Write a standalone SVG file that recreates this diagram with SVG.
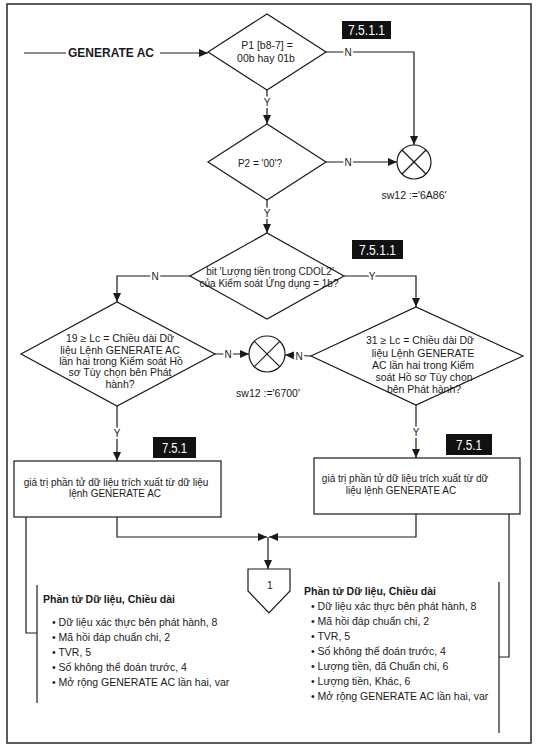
<svg xmlns="http://www.w3.org/2000/svg" width="545" height="749" viewBox="0 0 545 749">
<style>
text{font-family:"Liberation Sans",Arial,sans-serif;fill:#1a1a1a;dominant-baseline:central}
.ln{stroke:#1a1a1a;stroke-width:1.2;fill:none}
.sh{fill:#fff;stroke:#1a1a1a;stroke-width:1.2}
.frame{fill:none;stroke:#333;stroke-width:1.6}
.lbl{font-size:10px;paint-order:stroke;stroke:#fff;stroke-width:4px;text-anchor:middle}
.t10{font-size:10px;text-anchor:middle}
.t105{font-size:10.5px;text-anchor:middle}
.sw{font-size:10.5px;text-anchor:middle}
.tagb{fill:#111}
.tagt{fill:#fff;font-size:14px;text-anchor:middle}
.hd{font-size:10.5px;font-weight:bold}
.li{font-size:10.5px}
</style>
<defs>
<marker id="ah" markerWidth="9" markerHeight="8" refX="9" refY="4" orient="auto" markerUnits="userSpaceOnUse"><path d="M0,0 L9,4 L0,8 z" fill="#1a1a1a"/></marker>
</defs>
<rect x="0" y="0" width="545" height="749" fill="#fff"/>
<rect class="frame" x="7" y="4" width="524" height="739"/>

<g id="connectors">
<line class="ln" x1="24" y1="53" x2="66" y2="53"/>
<line class="ln" x1="160" y1="53" x2="208" y2="53" marker-end="url(#ah)"/>
<line class="ln" x1="267" y1="90" x2="267" y2="124" marker-end="url(#ah)"/>
<polyline class="ln" points="326,52 414,52 414,145" marker-end="url(#ah)"/>
<line class="ln" x1="326" y1="162" x2="397" y2="162" marker-end="url(#ah)"/>
<line class="ln" x1="267" y1="200" x2="267" y2="233" marker-end="url(#ah)"/>
<polyline class="ln" points="190,276 117,276 117,302" marker-end="url(#ah)"/>
<polyline class="ln" points="344,276 416,276 416,307" marker-end="url(#ah)"/>
<line class="ln" x1="215" y1="354" x2="249" y2="354" marker-end="url(#ah)"/>
<line class="ln" x1="311" y1="356" x2="285" y2="355" marker-end="url(#ah)"/>
<line class="ln" x1="117" y1="406" x2="117" y2="461" marker-end="url(#ah)"/>
<line class="ln" x1="416" y1="405" x2="416" y2="458" marker-end="url(#ah)"/>
<polyline class="ln" points="117,517 117,537 267,537" marker-end="url(#ah)"/>
<polyline class="ln" points="416,514 416,537 269,537" marker-end="url(#ah)"/>
<line class="ln" x1="268" y1="537" x2="268" y2="569" marker-end="url(#ah)"/>
<polyline class="ln" points="26,517 26,633 37,633"/>
<line class="ln" x1="37" y1="585" x2="37" y2="703"/>
<polyline class="ln" points="509,514 509,657 499,657"/>
<line class="ln" x1="499" y1="582" x2="499" y2="733"/>
<text class="lbl" x="267" y="102">Y</text>
<text class="lbl" x="348" y="52">N</text>
<text class="lbl" x="348" y="162">N</text>
<text class="lbl" x="267" y="213">Y</text>
<text class="lbl" x="155" y="276">N</text>
<text class="lbl" x="372" y="276">Y</text>
<text class="lbl" x="228" y="354">N</text>
<text class="lbl" x="299" y="356">N</text>
<text class="lbl" x="117" y="433">Y</text>
<text class="lbl" x="416" y="432">Y</text>
</g>

<g id="start">
<text x="68" y="53" style="font-size:12px;font-weight:bold">GENERATE AC</text>
</g>

<g id="d1">
<polygon class="sh" points="208,52 267,14 326,52 267,90"/>
<text class="t105" x="267" y="45">P1 [b8-7] =</text>
<text class="t105" x="266" y="58">00b hay 01b</text>
</g>

<g id="tag1">
<rect class="tagb" x="342" y="21" width="49" height="18"/>
<text class="tagt" x="366.5" y="30" textLength="37" lengthAdjust="spacingAndGlyphs">7.5.1.1</text>
</g>

<g id="d2">
<polygon class="sh" points="208,162 267,124 326,162 267,200"/>
<text class="t10" x="260" y="163">P2 = '00'?</text>
</g>

<g id="c1">
<circle class="sh" cx="414" cy="162" r="17"/>
<line class="ln" x1="402" y1="150" x2="426" y2="174"/>
<line class="ln" x1="426" y1="150" x2="402" y2="174"/>
<text class="sw" x="414" y="195">sw12 :='6A86'</text>
</g>

<g id="d3">
<polygon class="sh" points="190,276 267,233 344,276 267,319"/>
<text class="t10" x="270" y="271">bit 'Lượng tiền trong CDOL2'</text>
<text class="t10" x="269" y="283">của Kiểm soát Ứng dụng = 1b?</text>
</g>

<g id="tag2">
<rect class="tagb" x="352" y="240" width="51" height="19"/>
<text class="tagt" x="377.5" y="249.5" textLength="37" lengthAdjust="spacingAndGlyphs">7.5.1.1</text>
</g>

<g id="d4">
<polygon class="sh" points="21,354 117,302 215,354 117,406"/>
<text class="t105" x="120" y="338">19 ≥ Lc = Chiều dài Dữ</text>
<text class="t105" x="120" y="350">liệu Lệnh GENERATE AC</text>
<text class="t105" x="121" y="361">lần hai trong Kiểm soát Hồ</text>
<text class="t105" x="120" y="372">sơ Tùy chọn bên Phát</text>
<text class="t105" x="120" y="384">hành?</text>
</g>

<g id="c2">
<circle class="sh" cx="267" cy="354" r="18"/>
<line class="ln" x1="254.3" y1="341.3" x2="279.7" y2="366.7"/>
<line class="ln" x1="279.7" y1="341.3" x2="254.3" y2="366.7"/>
<text class="sw" x="268" y="393">sw12 :='6700'</text>
</g>

<g id="d5">
<polygon class="sh" points="311,356 416,307 523,356 416,405"/>
<text class="t105" x="420" y="340">31 ≥ Lc = Chiều dài Dữ</text>
<text class="t105" x="423" y="353">liệu Lệnh GENERATE</text>
<text class="t105" x="423" y="365">AC lần hai trong Kiểm</text>
<text class="t105" x="424" y="377">soát Hồ sơ Tùy chọn</text>
<text class="t105" x="424" y="389">bên Phát hành?</text>
</g>

<g id="b1">
<rect class="sh" x="14" y="461" width="207" height="56"/>
<text class="t10" x="116" y="482">giá trị phần tử dữ liệu trích xuất từ dữ liệu</text>
<text class="t10" x="115" y="493">lệnh GENERATE AC</text>
</g>

<g id="tag3">
<rect class="tagb" x="153" y="437" width="43" height="21"/>
<text class="tagt" x="174.5" y="447.5" textLength="25" lengthAdjust="spacingAndGlyphs">7.5.1</text>
</g>

<g id="b2">
<rect class="sh" x="314" y="458" width="206" height="56"/>
<text class="t10" x="405" y="478">giá trị phần tử dữ liệu trích xuất từ dữ</text>
<text class="t10" x="401" y="490">liệu lệnh GENERATE AC</text>
</g>

<g id="tag4">
<rect class="tagb" x="446" y="434" width="46" height="21"/>
<text class="tagt" x="469" y="444.5" textLength="26" lengthAdjust="spacingAndGlyphs">7.5.1</text>
</g>

<g id="p1">
<polygon class="sh" points="248,569 290,569 290,591 269,613 248,591"/>
<text class="t105" x="270" y="585">1</text>
</g>

<g id="note-left">
<text class="hd" x="43" y="599">Phần tử Dữ liệu, Chiều dài</text>
<text class="li" x="52" y="622">•  Dữ liệu xác thực bên phát hành, 8</text>
<text class="li" x="52" y="637">•  Mã hồi đáp chuẩn chi, 2</text>
<text class="li" x="52" y="652">•  TVR, 5</text>
<text class="li" x="52" y="667">•  Số không thể đoán trước, 4</text>
<text class="li" x="52" y="682">•  Mở rộng GENERATE AC lần hai, var</text>
</g>

<g id="note-right">
<text class="hd" x="304" y="591">Phần tử Dữ liệu, Chiều dài</text>
<text class="li" x="311" y="606">•  Dữ liệu xác thực bên phát hành, 8</text>
<text class="li" x="311" y="621">•  Mã hồi đáp chuẩn chi, 2</text>
<text class="li" x="311" y="636">•  TVR, 5</text>
<text class="li" x="311" y="651">•  Số không thể đoán trước, 4</text>
<text class="li" x="311" y="666">•  Lượng tiền, đã Chuẩn chi, 6</text>
<text class="li" x="311" y="681">•  Lượng tiền, Khác, 6</text>
<text class="li" x="311" y="696">•  Mở rộng GENERATE AC lần hai, var</text>
</g>
</svg>
